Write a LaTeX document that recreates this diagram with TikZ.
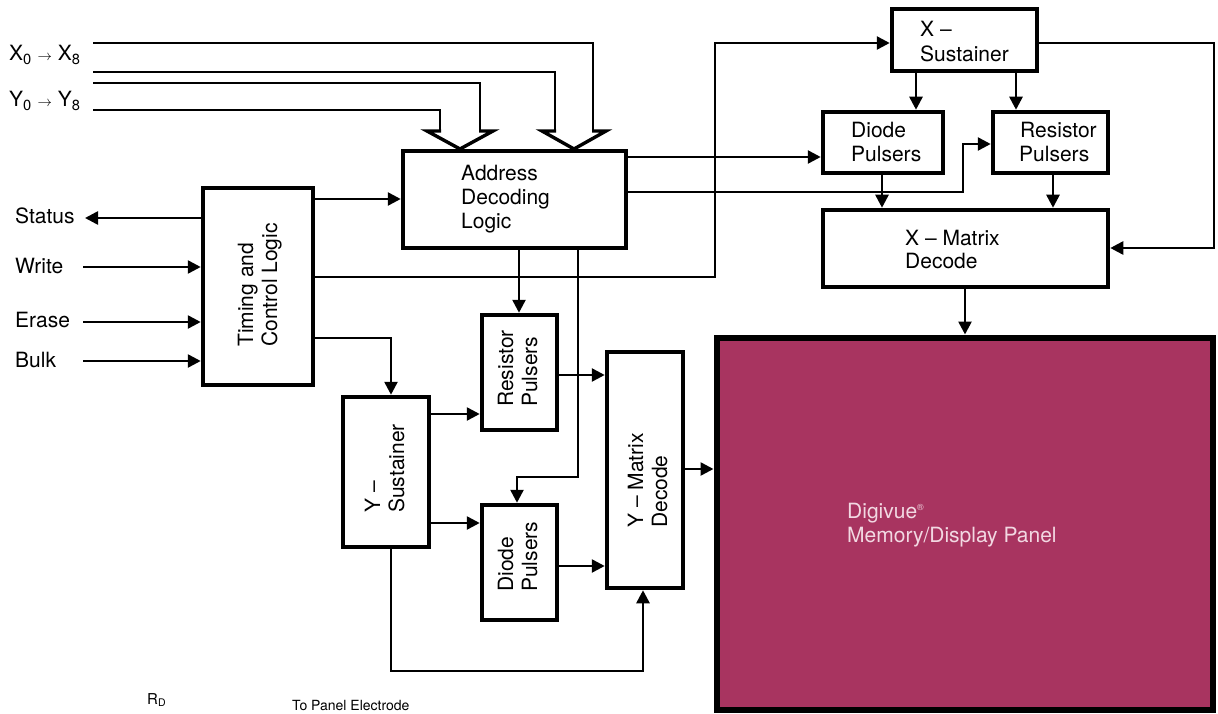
\documentclass[tikz,border=0pt]{standalone}
\usepackage{fontspec}
\setmainfont{TeX Gyre Heros}
\usetikzlibrary{arrows.meta}
\definecolor{panelred}{RGB}{168,52,96}
\definecolor{paneltext}{RGB}{242,216,226}
\begin{document}
\begin{tikzpicture}[x=1pt,y=-1pt,
  box/.style={draw=black, line width=4.5pt, fill=white, inner sep=0pt},
  wire/.style={line width=2.6pt},
  arr/.style={line width=2.6pt,-{Triangle[length=13pt,width=13pt]}},
  bushead/.style={line width=3.4pt, line join=miter},
  txt/.style={inner sep=0pt, anchor=base west, font=\fontsize{21}{25}\selectfont},
  rtxt/.style={txt, rotate=90},
  ptxt/.style={txt, text=paneltext}]
\useasboundingbox (0,0) rectangle (1218,714);
\fill[white] (0,0) rectangle (1218,714);

% ---------- boxes ----------
\node[box, minimum width=110pt, minimum height=197pt] (tcl) at (258,286.5) {};
\node[box, minimum width=223pt, minimum height=97pt] (adl) at (514.5,199.5) {};
\node[box, minimum width=145pt, minimum height=62pt] (xsus) at (964.5,40) {};
\node[box, minimum width=120pt, minimum height=61pt] (xdp) at (883,142.5) {};
\node[box, minimum width=115pt, minimum height=61pt] (xrp) at (1050.5,142.5) {};
\node[box, minimum width=285pt, minimum height=77pt] (xmd) at (965.5,248.5) {};
\node[box, minimum width=86pt, minimum height=150pt] (ysus) at (386,472) {};
\node[box, minimum width=75pt, minimum height=115pt] (yrp) at (519.5,372.5) {};
\node[box, minimum width=75pt, minimum height=115pt] (ydp) at (519.5,562.5) {};
\node[box, minimum width=76pt, minimum height=236pt] (ymd) at (645,470) {};
\node[draw=black, line width=6pt, fill=panelred, inner sep=0pt,
      minimum width=496pt, minimum height=372pt] (panel) at (964.5,523.5) {};

% ---------- texts ----------
\node[txt] (xlab) at (9,61) {X\textsubscript{0} {\fontsize{14}{14}\selectfont$\rightarrow$} X\textsubscript{8}};
\node[txt] (ylab) at (9,107) {Y\textsubscript{0} {\fontsize{14}{14}\selectfont$\rightarrow$} Y\textsubscript{8}};
\node[txt] (status) at (15,224) {Status};
\node[txt] (write) at (15,273) {Write};
\node[txt] (erase) at (15,327) {Erase};
\node[txt] (bulk) at (15,367) {Bulk};

\node[rtxt] (tcl-a) at (253,347) {Timing and};
\node[rtxt] (tcl-b) at (277,347) {Control Logic};
\node[txt] (adl-a) at (461,181) {Address};
\node[txt] (adl-b) at (461,205) {Decoding};
\node[txt] (adl-c) at (461,229) {Logic};
\node[txt] (xsus-a) at (920,37) {X --};
\node[txt] (xsus-b) at (920,62) {Sustainer};
\node[txt] (xdp-a) at (851,138) {Diode};
\node[txt] (xdp-b) at (851,162) {Pulsers};
\node[txt] (xrp-a) at (1020,138) {Resistor};
\node[txt] (xrp-b) at (1019,162) {Pulsers};
\node[txt] (xmd-a) at (905,245) {X -- Matrix};
\node[txt] (xmd-b) at (905,268) {Decode};
\node[rtxt] (ysus-a) at (380,513) {Y --};
\node[rtxt] (ysus-b) at (404,513) {Sustainer};
\node[rtxt] (yrp-a) at (513,407) {Resistor};
\node[rtxt] (yrp-b) at (537,407) {Pulsers};
\node[rtxt] (ydp-a) at (513,592) {Diode};
\node[rtxt] (ydp-b) at (537,592) {Pulsers};
\node[rtxt] (ymd-a) at (643,528) {Y -- Matrix};
\node[rtxt] (ymd-b) at (667,528) {Decode};
\node[ptxt] (pan-a) at (847,518) {Digivue\textsuperscript{\fontsize{9}{9}\selectfont ®}};
\node[ptxt] (pan-b) at (847,542) {Memory/Display Panel};
\node[txt, font=\fontsize{15}{18}\selectfont] (rd) at (147,704) {R\textsubscript{D}};
\node[txt, font=\fontsize{14}{17}\selectfont] (tpe) at (292,710) {To Panel Electrode};

% ---------- free ends ----------
\coordinate (in1) at (93,43);
\coordinate (in2) at (93,72);
\coordinate (in3) at (93,83);
\coordinate (in4) at (93,110);
\coordinate (cstat) at (85,218);
\coordinate (cwrite) at (83,267);
\coordinate (cerase) at (83,322);
\coordinate (cbulk) at (83,361);
\coordinate (cj) at (715,43);
\coordinate (ck) at (391,338);
\coordinate (cm) at (963,192);
\coordinate (co) at (578,477);
\coordinate (cr) at (1214,43);
\coordinate (cb) at (643,671);
\coordinate (apexY) at (460,149);
\coordinate (apexX) at (574,149);

% ---------- address buses ----------
\draw[wire] (in1) -| (593,131);
\draw[wire] (in2) -| (555,131);
\draw[wire] (in3) -| (480,131);
\draw[wire] (in4) -| (440,131);
\draw[bushead] (441,131) -- (427,131) -- (apexY) -- (493,131) -- (479,131);
\draw[bushead] (556,131) -- (542,131) -- (apexX) -- (606,131) -- (592,131);

% ---------- control lines ----------
\draw[arr] (tcl.west |- cstat) -- (cstat);
\draw[arr] (cwrite) -- (cwrite -| tcl.west);
\draw[arr] (cerase) -- (cerase -| tcl.west);
\draw[arr] (cbulk) -- (cbulk -| tcl.west);
\draw[arr] (tcl.east |- 0,199) -- (adl.west |- 0,199);
\draw[arr] (tcl.east |- 0,277) -| (cj) -- (xsus.west |- cj);
\draw[arr] (tcl.east |- ck) -- (ck) -- (ck |- ysus.north);

% ---------- address decoding outputs ----------
\draw[arr] (adl.east |- 0,157) -- (xdp.west |- 0,157);
\draw[arr] (adl.east |- cm) -| (963,144) -- (xrp.west |- 0,144);
\draw[arr] (519,0 |- adl.south) -- (519,0 |- yrp.north);
\draw[arr] (co |- adl.south) -- (co) -| (517,0 |- ydp.north);

% ---------- X side ----------
\draw[arr] (916,0 |- xsus.south) -- (916,0 |- xdp.north);
\draw[arr] (1016,0 |- xsus.south) -- (1016,0 |- xrp.north);
\draw[arr] (xsus.east |- cr) -- (cr) |- (xmd.east |- 0,248);
\draw[arr] (882,0 |- xdp.south) -- (882,0 |- xmd.north);
\draw[arr] (1053,0 |- xrp.south) -- (1053,0 |- xmd.north);
\draw[arr] (965,0 |- xmd.south) -- (965,0 |- panel.north);

% ---------- Y side ----------
\draw[arr] (ysus.east |- 0,414) -- (yrp.west |- 0,414);
\draw[arr] (ysus.east |- 0,523) -- (ydp.west |- 0,523);
\draw[arr] (yrp.east |- 0,375) -- (ymd.west |- 0,375);
\draw[arr] (ydp.east |- 0,566) -- (ymd.west |- 0,566);
\draw[arr] (ymd.east |- 0,469) -- (panel.west |- 0,469);
\draw[arr] (391,0 |- ysus.south) |- (cb) -- (cb |- ymd.south);
\end{tikzpicture}
\end{document}
